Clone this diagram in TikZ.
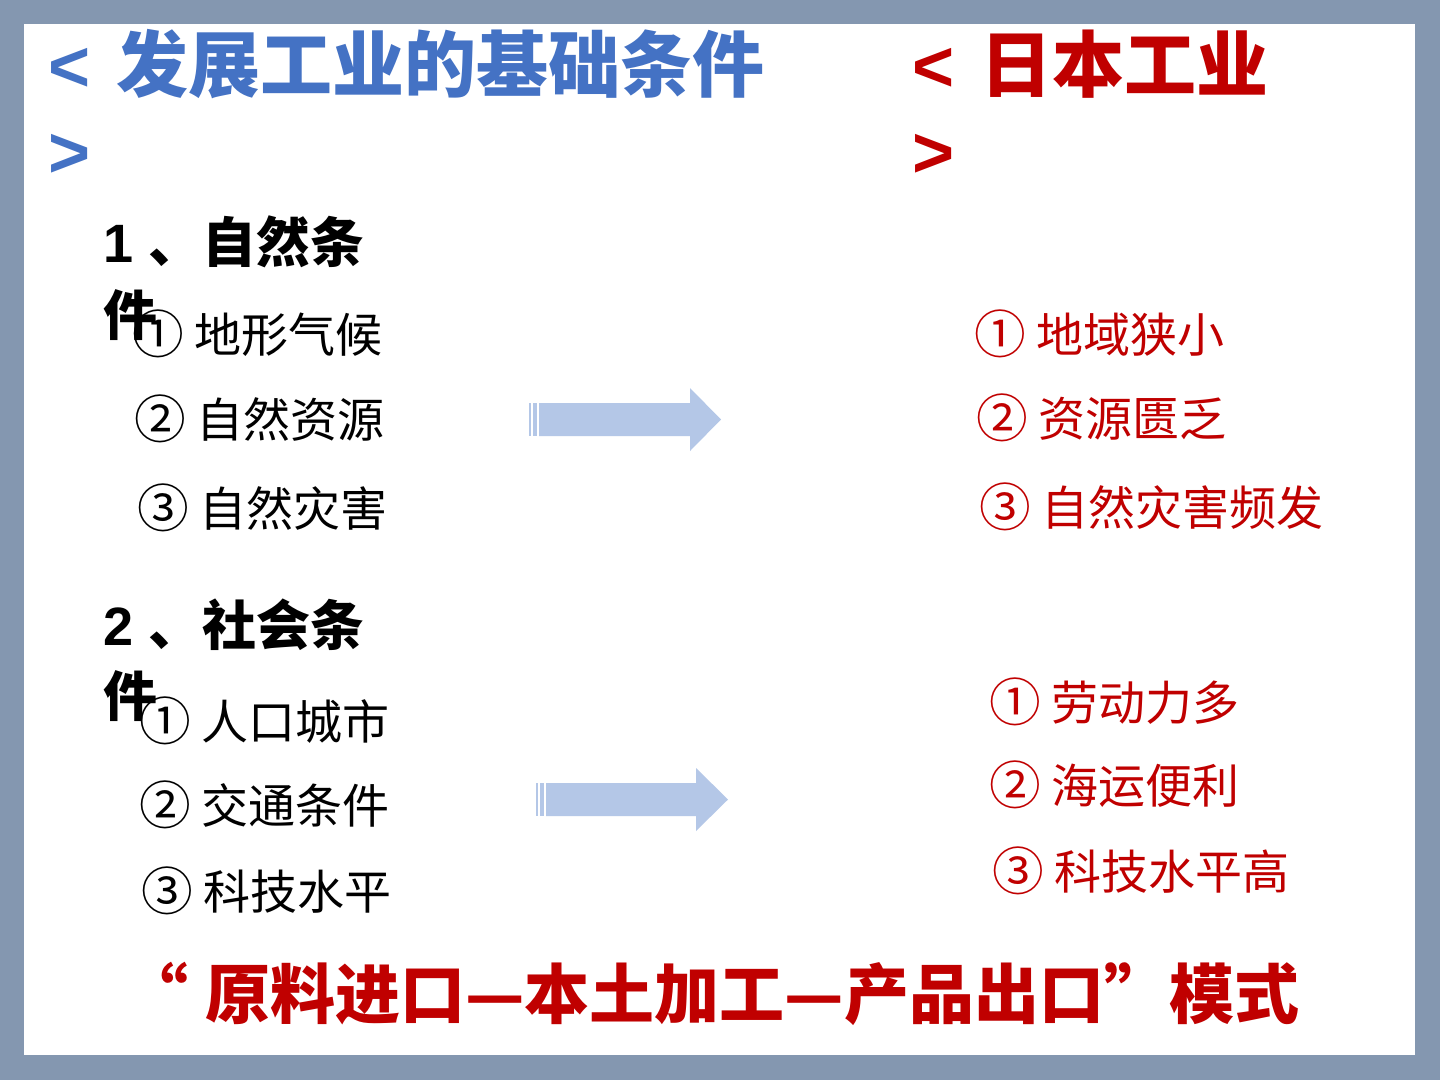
\documentclass[tikz,border=0pt]{standalone}
\usepackage{fontspec}
\usepackage{graphicx}
\setmainfont{Liberation Sans}
\newfontfamily\cjk{Noto Sans CJK SC}
\definecolor{frame}{RGB}{132,151,176}
\definecolor{tblue}{RGB}{68,114,196}
\definecolor{tred}{RGB}{192,0,0}
\definecolor{arrowc}{RGB}{180,199,231}
\newcommand\cnum[1]{\raisebox{-0.03em}{\scalebox{1.1}{#1}}}
\tikzset{
  ttl/.style={inner sep=0pt, anchor=base west, font=\fontsize{72}{80}\selectfont\bfseries},
  sec/.style={inner sep=0pt, anchor=base west, font=\fontsize{54}{60}\selectfont\bfseries},
  itm/.style={inner sep=0pt, anchor=west, font=\cjk\fontsize{47}{52}\selectfont},
  big/.style={inner sep=0pt, anchor=base west, text=tred, font=\cjk\fontsize{65}{70}\selectfont\bfseries},
  arr/.style={fill=arrowc, draw=none}
}
\begin{document}
\begin{tikzpicture}[x=1pt,y=-1pt]
\useasboundingbox (0,0) rectangle (1440,1080);
\fill[frame] (0,0) rectangle (1440,1080);
\fill[white] (24,24) rectangle (1415,1055);

% titles
\node[ttl, text=tblue] (tl1) at (48,91) {<\hspace{6pt} {\cjk 发展工业的基础条件}};
\node[ttl, text=tblue] (tl2) at (48,177) {>};
\node[ttl, text=tred] (tr1) at (912,91) {<\hspace{6pt} {\cjk 日本工业}};
\node[ttl, text=tred] (tr2) at (912,177) {>};

% section headers
\node[sec] (s1a) at (103,262) {1 {\cjk 、自然条}};
\node[sec] (s1b) at (103,335) {\cjk 件};
\node[sec] (s2a) at (103,645) {2 {\cjk 、社会条}};
\node[sec] (s2b) at (103,716) {\cjk 件};

% left items
\node[itm] (l11) at (132,334) {\cnum{①} 地形气候};
\node[itm] (l12) at (134,419) {\cnum{②} 自然资源};
\node[itm] (l13) at (137,508) {\cnum{③} 自然灾害};
\node[itm] (l21) at (139,721) {\cnum{①} 人口城市};
\node[itm] (l22) at (139,805) {\cnum{②} 交通条件};
\node[itm] (l23) at (141,891) {\cnum{③} 科技水平};

% right items
\node[itm, text=tred] (r11) at (974,334) {\cnum{①} 地域狭小};
\node[itm, text=tred] (r12) at (976,418) {\cnum{②} 资源匮乏};
\node[itm, text=tred] (r13) at (979,507) {\cnum{③} 自然灾害频发};
\node[itm, text=tred] (r21) at (989,702) {\cnum{①} 劳动力多};
\node[itm, text=tred] (r22) at (989,785) {\cnum{②} 海运便利};
\node[itm, text=tred] (r23) at (992,871) {\cnum{③} 科技水平高};

% arrows
\fill[arr] (529,403) rectangle (531,436);
\fill[arr] (533,403) rectangle (537,436);
\fill[arr] (539,403) -- (690,403) -- (690,388) -- (721,419.5) -- (690,451) -- (690,436) -- (539,436) -- cycle;
\fill[arr] (536,783) rectangle (538,816);
\fill[arr] (540,783) rectangle (544,816);
\fill[arr] (546,783) -- (696,783) -- (696,768) -- (728,799.5) -- (696,831) -- (696,816) -- (546,816) -- cycle;

% bottom line
\node[big] (bot) at (123,1018) {“\hspace{17pt}原料进口—本土加工—产品出口”模式};
\end{tikzpicture}
\end{document}
